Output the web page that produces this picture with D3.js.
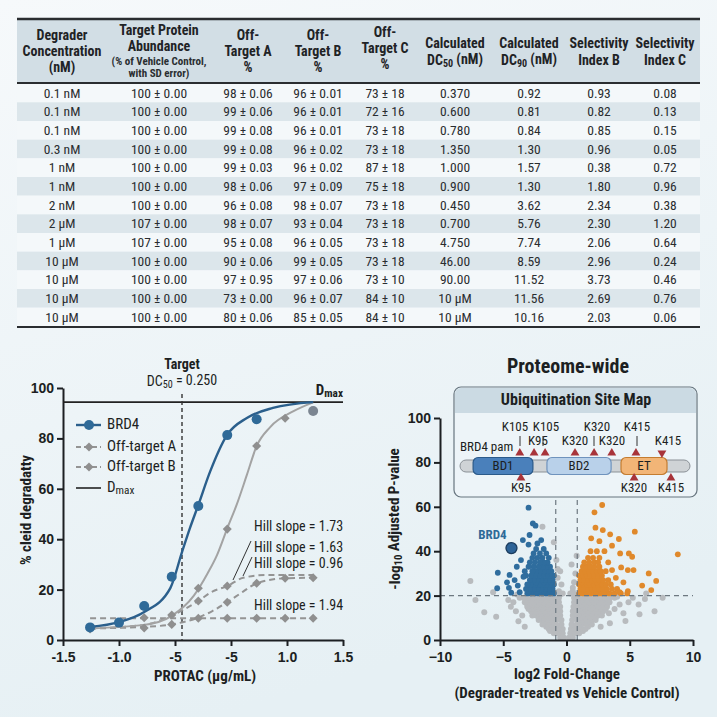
<!DOCTYPE html>
<html><head><meta charset="utf-8">
<script src="https://d3js.org/d3.v7.min.js"></script>
<style>
body { margin:0; background:#eef4f7; }
svg { display:block; font-family:"Liberation Sans Narrow","Arial Narrow","Roboto Condensed","Liberation Sans",sans-serif; }
</style>
</head><body>
<svg id="fig" width="717" height="717"></svg>
<script>
// ---------- table data ----------
const concLabels = ["0.1 nM","0.1 nM","0.1 nM","0.3 nM","1 nM","1 nM","2 nM","2 µM","1 µM","10 µM","10 µM","10 µM","10 µM"];
const abundance  = ["100 ± 0.00","100 ± 0.00","100 ± 0.00","100 ± 0.00","100 ± 0.00","100 ± 0.00","100 ± 0.00","107 ± 0.00","107 ± 0.00","100 ± 0.00","100 ± 0.00","100 ± 0.00","100 ± 0.00"];
const offA = ["98 ± 0.06","99 ± 0.06","99 ± 0.08","99 ± 0.08","99 ± 0.03","98 ± 0.06","96 ± 0.08","98 ± 0.07","95 ± 0.08","90 ± 0.06","97 ± 0.95","73 ± 0.00","80 ± 0.06"];
const offB = ["96 ± 0.01","96 ± 0.01","96 ± 0.01","96 ± 0.02","96 ± 0.02","97 ± 0.09","98 ± 0.07","93 ± 0.04","96 ± 0.05","99 ± 0.05","97 ± 0.06","96 ± 0.07","85 ± 0.05"];
const offC = ["73 ± 18","72 ± 16","73 ± 18","73 ± 18","87 ± 18","75 ± 18","73 ± 18","73 ± 18","73 ± 18","73 ± 18","73 ± 10","84 ± 10","84 ± 10"];
const dc50 = ["0.370","0.600","0.780","1.350","1.000","0.900","0.450","0.700","4.750","46.00","90.00","10 µM","10 µM"];
const dc90 = ["0.92","0.81","0.84","1.30","1.57","1.30","3.62","5.76","7.74","8.59","11.52","11.56","10.16"];
const selB = ["0.93","0.82","0.85","0.96","0.38","1.80","2.34","2.30","2.06","2.96","3.73","2.69","2.03"];
const selC = ["0.08","0.13","0.15","0.05","0.72","0.96","0.38","1.20","0.64","0.24","0.46","0.76","0.06"];

// ---------- dose-response data ----------
const xTickVals   = [-1.5,-0.9,-0.3,0.3,0.9,1.5];
const xTickLabels = ["-1.5","-1.0","-5","-5","1.0","1.5"];
const brd4Pts  = [[-1.21,5.0],[-0.9,6.9],[-0.63,13.5],[-0.335,25.1],[-0.05,53.2],[0.26,81.3],[0.575,87.6]];
const brd4Fit  = [[-1.21,5.2],[-0.9,7.1],[-0.63,11.1],[-0.35,20.6],[-0.225,34.9],[-0.14,44.4],[-0.05,53.6],[0.075,66.7],[0.257,81.3],[0.47,88.1],[0.75,92.1],[1.18,94.4]];
const solidFit = [[-1.21,4.6],[-0.63,6.0],[-0.335,9.6],[-0.1,17.5],[0.05,26.5],[0.15,33.7],[0.26,44.3],[0.36,53.6],[0.47,65.5],[0.575,77],[0.72,84.5],[0.97,90.8],[1.18,94.3]];
const solidPts = [[-1.21,4.4],[-0.05,20.5],[0.26,44],[0.575,77],[0.88,88]];
const solidEnd = [1.18,90.9];
const offAFit  = [[-1.21,4.6],[-0.63,6.0],[-0.335,9.7],[-0.05,15.5],[0.1,19.2],[0.26,21.4],[0.43,24.7],[0.68,25.8],[1.18,25.8]];
const offAPts  = [[-0.335,9.9],[-0.05,15.5],[0.26,21.4]];
const offBFit  = [[-1.21,4.6],[-0.63,5.2],[-0.335,6.2],[-0.05,8.9],[0.1,11.5],[0.26,15.0],[0.43,19.2],[0.575,22.5],[0.88,24.5],[1.18,24.7]];
const offBPts  = [[-0.63,4.8],[-0.335,6.2],[0.26,15.0],[0.575,22.5],[0.88,24.5],[1.18,24.7]];
const flatFit  = [[-1.21,8.6],[1.18,8.6]];
const flatPts  = [[-0.63,8.8],[-0.05,8.6],[0.26,8.6],[0.575,8.6],[0.88,8.6],[1.18,8.6]];
const dmax = 94.4, targetDC50 = -0.225;
const hillLabels = ["Hill slope = 1.73","Hill slope = 1.63","Hill slope = 0.96","Hill slope = 1.94"];

// ---------- volcano data (rows of log2FC at a given -log10 p) ----------
const grayRows = [
  [1,[-0.2,-0.5,0.2,0.5]],[2,[-0.4,0.4]],[3,[-0.3,-0.7,-1.0,0.3,0.7,1.0]],[4,[-0.6,-1.3,0.6,1.3]],
  [5,[-0.3,-0.7,-1.1,-1.4,0.35,0.75,1.1,1.5]],[6,[-0.6,-0.9,-1.6,0.6,1.0,1.7]],
  [7,[-0.4,-0.8,-1.2,-1.6,-1.9,0.4,0.8,1.2,1.6,2.0]],[8,[-1.0,-1.4,-1.8,1.1,1.5,1.9]],
  [9,[-0.4,-0.8,-1.2,-1.5,-1.9,-2.2,0.45,0.85,1.25,1.6,2.0,2.3]],[10,[-0.6,-1.0,-1.4,-1.8,-2.2,0.7,1.1,1.5,1.9,2.3]],
  [11,[-0.5,-0.9,-1.3,-1.7,-2.0,-2.4,-2.7,0.5,0.9,1.3,1.7,2.1,2.5,2.8]],[12,[-0.7,-1.1,-1.5,-1.9,-2.3,-2.6,0.7,1.1,1.6,2.0,2.4,2.7]],
  [13,[-0.5,-0.9,-1.3,-1.7,-2.1,-2.5,-2.8,0.5,0.9,1.3,1.7,2.1,2.5,2.9]],[14,[-0.7,-1.1,-1.5,-1.9,-2.3,-2.7,-3.0,0.7,1.1,1.5,1.9,2.3,2.7,3.1]],
  [15,[-0.5,-0.9,-1.3,-1.6,-2.0,-2.4,-2.8,-3.1,0.55,0.95,1.35,1.7,2.1,2.5,2.9,3.2]],[16,[-0.7,-1.1,-1.5,-1.9,-2.3,-2.7,-3.1,0.8,1.2,1.6,2.0,2.4,2.8,3.2]],
  [17,[-0.6,-1.0,-1.4,-1.8,-2.2,-2.6,-3.0,-3.3,0.6,1.0,1.4,1.8,2.2,2.6,3.0,3.4]],[18,[-0.8,-1.2,-1.6,-2.0,-2.4,-2.8,-3.2,0.8,1.2,1.6,2.0,2.4,2.8,3.3]],
  [19,[-0.6,-1.0,-1.4,-1.8,-2.2,-2.6,-3.0,-3.4,-3.7,0.6,1.0,1.4,1.8,2.2,2.6,3.0,3.4,3.8]]
];
const grayExtra = [[-4.2,17],[-4.6,18],[-4.0,13],[-3.5,11],[-5.56,10.5],[-6.5,12.5],[-7.2,18],[-7.6,26.6],[-5.8,21.5],[-3.8,8.5],[-3.3,6],[-4.4,15],[-3.9,20.5],
  [5.24,19],[5.7,16],[6.2,18.5],[7.6,19],[6.96,13],[5.77,11.6],[4.66,8.6],[3.8,14],[3.35,12],[3.43,7.5],[2.7,6],[4.2,16],[4.5,12],[4.0,19.5],[6.3,21],[4.9,17],
  [-0.6,22],[-0.4,25],[-0.7,28],[-0.5,31],[-0.8,36],[-0.7,32],[-1.0,44],[-1.9,51],[0.5,22],[0.6,26],[0.7,30],[0.4,34],[0.5,23.5],[0.8,38],[-0.3,21],[0.3,21],[-0.5,20.5],[0.6,20.5]];
const blueRows = [
  [21,[-1.0,-1.3,-1.6,-1.9,-2.2,-2.5,-2.8,-3.1]],[22,[-1.15,-1.75,-2.35,-2.95]],[23,[-1.1,-1.4,-1.7,-2.0,-2.3,-2.6,-2.9,-3.2]],
  [25,[-1.0,-1.3,-1.6,-1.9,-2.2,-2.5,-2.8,-3.1]],[26,[-1.2,-1.8,-2.4]],[27,[-1.1,-1.4,-1.7,-2.0,-2.3,-2.6,-2.9]],
  [29,[-1.0,-1.3,-1.6,-1.9,-2.2,-2.5,-2.8,-3.2]],[31,[-1.2,-1.5,-1.8,-2.1,-2.4,-2.7,-3.3]],
  [33,[-1.3,-1.6,-1.9,-2.2,-2.6,-3.0]],[35,[-1.5,-1.8,-2.1,-2.5,-2.9]],[37,[-1.4,-1.9,-2.3,-2.7]],
  [39,[-1.6,-2.1,-2.6]],[41,[-1.8,-2.4]]
];
const blueExtra = [[-3.0,59.6],[-2.66,52.5],[-2.45,51.5],[-2.92,47.3],[-3.45,45],[-3.0,43],[-2.3,43.5],[-5.43,30.3],[-4.5,29.3],[-4.7,26],[-5.48,23.3],[-4.55,23.5],[-4.37,21.3],[-3.93,33],[-3.85,24.5],[-3.4,28.5],[-3.6,36],[-2.0,45],[-3.7,21.5],[-4.1,27]];
const orangeRows = [
  [21,[1.0,1.3,1.6,1.9,2.2,2.5,2.8,3.1,3.4,3.8,4.3,4.8]],[22,[1.15,1.75,2.35,2.95]],[23,[1.1,1.4,1.7,2.0,2.3,2.6,2.9,3.2,3.6,4.0]],
  [25,[1.0,1.3,1.6,1.9,2.2,2.5,2.8,3.1,3.5]],[26,[1.2,1.8,2.4]],[27,[1.1,1.4,1.7,2.0,2.3,2.6,2.9,3.3]],
  [29,[1.0,1.3,1.6,1.9,2.2,2.5,2.8]],[31,[1.2,1.5,1.8,2.1,2.4,2.7,3.1]],
  [33,[1.3,1.6,1.9,2.2,2.6]],[35,[1.4,1.8,2.2,2.5]],[37,[1.7,2.1,2.6]],[40,[1.9,2.4]]
];
const orangeExtra = [[2.82,60.8],[2.21,57.5],[2.29,50.6],[2.87,49.5],[3.45,47.6],[5.4,48.8],[1.95,45.8],[2.6,44.5],[4.14,45.5],[3.6,42.5],[3.0,40],[4.24,39],[4.93,39],[5.19,37.5],[8.8,38.6],[4.32,32.7],[4.85,31.5],[5.3,31.5],[3.6,31.5],[6.5,30],[7.09,26.6],[5.98,24.5],[6.7,22.5],[4.85,22],[4.2,21.5],[3.9,28],[4.5,26],[3.3,35]];
const brd4Hit = [-4.35,41.4];
const fcCut = 0.85, pCut = 20;

// ---------- site map (positions along the bar, 0-100) ----------
const domains = [{name:"BD1",s:5.7,e:31.7,fill:"#4a80bb",stroke:"#2b5a8a"},{name:"BD2",s:37.8,e:65.7,fill:"#b9d1ea",stroke:"#6f93bd"},{name:"ET",s:70,e:90,fill:"#f2b577",stroke:"#c47c30"}];
const sitesUp = [26,32.2,37,50,58.3,66,76.5];
const sitesDown = [87.8];
const sitesBelow = [26.5,75.7,91.7];

const svg = d3.select("#fig");
const defs = svg.append("defs");
const bg = defs.append("linearGradient").attr("id","bg").attr("x1",0).attr("y1",0).attr("x2",0.3).attr("y2",1);
bg.append("stop").attr("offset",0).attr("stop-color","#f6f9fb");
bg.append("stop").attr("offset",1).attr("stop-color","#e6f0f4");
svg.append("rect").attr("width",717).attr("height",717).attr("fill","url(#bg)");

function subText(sel, parts) {
  parts.forEach(p => {
    if (typeof p === "string") sel.append("tspan").text(p);
    else sel.append("tspan").attr("font-size", p.size || "0.72em").attr("dy", p.dy).text(p.t);
  });
}

// ================= TABLE =================
const colX = [62,159,248,318,385,455,529,599,665];
const tL = 17, tR = 700, rowH = 18.67, row0 = 93;
const tbl = svg.append("g");
tbl.append("rect").attr("x",tL).attr("y",19).attr("width",tR-tL).attr("height",64).attr("fill","#d2dee5");
concLabels.forEach((d,i) => {
  tbl.append("rect").attr("x",tL).attr("y",row0 - rowH/2 + i*rowH).attr("width",tR-tL).attr("height",rowH)
     .attr("fill", i % 2 ? "#dce6eb" : "#f4f8fa");
});
tbl.append("line").attr("x1",tL).attr("x2",tR).attr("y1",19).attr("y2",19).attr("stroke","#2a2d30").attr("stroke-width",2.5);
tbl.append("line").attr("x1",tL).attr("x2",tR).attr("y1",83).attr("y2",83).attr("stroke","#2a2d30").attr("stroke-width",2);
tbl.append("line").attr("x1",tL).attr("x2",tR).attr("y1",327).attr("y2",327).attr("stroke","#2a2d30").attr("stroke-width",2);

const headers = [
  [["Degrader",36],["Concentration",52],["(nM)",68]],
  [["Target Protein",31],["Abundance",47]],
  [["Off-",36],["Target A",52],["%",68]],
  [["Off-",36],["Target B",52],["%",68]],
  [["Off-",33],["Target C",49],["%",65]],
  [["Calculated",44],[["DC",{t:"50",dy:"0.3em"},{t:" (nM)",dy:"-0.3em",size:"1em"}],61]],
  [["Calculated",44],[["DC",{t:"90",dy:"0.3em"},{t:" (nM)",dy:"-0.3em",size:"1em"}],61]],
  [["Selectivity",44],["Index B",61]],
  [["Selectivity",44],["Index C",61]]
];
headers.forEach((lines,c) => {
  lines.forEach(([t,y]) => {
    const tx = tbl.append("text").attr("x",colX[c]).attr("y",y).attr("text-anchor","middle")
      .attr("dominant-baseline","middle").attr("font-size",14).attr("font-weight","bold").attr("fill","#1f2326");
    if (Array.isArray(t)) subText(tx, t); else tx.text(t);
  });
});
[["(% of Vehicle Control,",62],["with SD error)",74]].forEach(([t,y]) => {
  tbl.append("text").attr("x",colX[1]).attr("y",y).attr("text-anchor","middle").attr("dominant-baseline","middle")
     .attr("font-size",11).attr("font-weight","bold").attr("fill","#2a2e31").text(t);
});
const cols = [concLabels,abundance,offA,offB,offC,dc50,dc90,selB,selC];
cols.forEach((col,c) => {
  tbl.selectAll(null).data(col).join("text")
    .attr("x",colX[c]).attr("y",(d,i)=>row0 + i*rowH + 1)
    .attr("text-anchor","middle").attr("dominant-baseline","middle")
    .attr("font-size",13.5).attr("fill","#2a2d30").text(d=>d);
});

// ================= DOSE-RESPONSE =================
const xL = d3.scaleLinear().domain([-1.5,1.5]).range([63,343]);
const yL = d3.scaleLinear().domain([0,100]).range([640,388]);
const gL = svg.append("g");
gL.append("g").attr("transform","translate(0,640)")
  .call(d3.axisBottom(xL).tickValues(xTickVals).tickFormat((d,i)=>xTickLabels[i]).tickSize(6).tickSizeOuter(0))
  .call(g => { g.select(".domain").attr("stroke","#1c1f22").attr("stroke-width",2);
               g.selectAll("line").attr("stroke","#1c1f22").attr("stroke-width",2);
               g.selectAll("text").attr("font-size",14).attr("font-weight","bold").attr("fill","#1c1f22").attr("dy","0.9em").attr("font-family","inherit"); });
gL.append("g").attr("transform","translate(63,0)")
  .call(d3.axisLeft(yL).tickValues([0,20,40,60,80,100]).tickSize(6).tickSizeOuter(0))
  .call(g => { g.select(".domain").attr("stroke","#1c1f22").attr("stroke-width",2);
               g.selectAll("line").attr("stroke","#1c1f22").attr("stroke-width",2);
               g.selectAll("text").attr("font-size",14).attr("font-weight","bold").attr("fill","#1c1f22").attr("font-family","inherit"); });
gL.append("text").attr("transform","translate(27,510) rotate(-90)").attr("text-anchor","middle").attr("dominant-baseline","middle")
  .attr("font-size",15).attr("font-weight","bold").attr("fill","#1c1f22").text("% cleid degradatty");
gL.append("text").attr("x",205).attr("y",677).attr("text-anchor","middle").attr("dominant-baseline","middle")
  .attr("font-size",15).attr("font-weight","bold").attr("fill","#1c1f22").text("PROTAC (µg/mL)");

// Dmax + target line
gL.append("line").attr("x1",xL(-1.5)).attr("x2",xL(1.5)).attr("y1",yL(dmax)).attr("y2",yL(dmax)).attr("stroke","#222").attr("stroke-width",1.6);
gL.append("line").attr("x1",xL(targetDC50)).attr("x2",xL(targetDC50)).attr("y1",394).attr("y2",640)
  .attr("stroke","#333").attr("stroke-width",1.4).attr("stroke-dasharray","4,3");
gL.append("text").attr("x",xL(targetDC50)).attr("y",365).attr("text-anchor","middle").attr("dominant-baseline","middle")
  .attr("font-size",14).attr("font-weight","bold").attr("fill","#1c1f22").text("Target");
subText(gL.append("text").attr("x",xL(targetDC50)).attr("y",382).attr("text-anchor","middle").attr("dominant-baseline","middle")
  .attr("font-size",14).attr("fill","#1c1f22"), ["DC",{t:"50",dy:"0.3em"},{t:" = 0.250",dy:"-0.3em",size:"1em"}]);
subText(gL.append("text").attr("x",343).attr("y",391).attr("text-anchor","end").attr("dominant-baseline","middle")
  .attr("font-size",15).attr("font-weight","bold").attr("fill","#1c1f22"), ["D",{t:"max",dy:"0.3em",size:"0.75em"}]);

const line = d3.line().x(d=>xL(d[0])).y(d=>yL(d[1])).curve(d3.curveMonotoneX);
const dash = "6,4", grayC = "#949494";
[offBFit,flatFit,offAFit].forEach(f => {
  gL.append("path").attr("d",line(f)).attr("fill","none").attr("stroke",grayC).attr("stroke-width",2).attr("stroke-dasharray",dash);
});
gL.append("path").attr("d",line(solidFit)).attr("fill","none").attr("stroke","#a3a3a3").attr("stroke-width",2);
gL.append("path").attr("d",line(brd4Fit)).attr("fill","none").attr("stroke","#2b5f8c").attr("stroke-width",2.4);

const diamond = d3.symbol().type(d3.symbolDiamond2).size(52);
gL.selectAll("path.dm").data([...flatPts,...offBPts,...offAPts,...solidPts]).join("path").attr("class","dm")
  .attr("transform",d=>`translate(${xL(d[0])},${yL(d[1])})`).attr("d",diamond).attr("fill","#8f8f8f");
gL.append("circle").attr("cx",xL(solidEnd[0])).attr("cy",yL(solidEnd[1])).attr("r",5).attr("fill","#7b8591");
gL.selectAll("circle.b").data(brd4Pts).join("circle").attr("class","b")
  .attr("cx",d=>xL(d[0])).attr("cy",d=>yL(d[1])).attr("r",5).attr("fill","#2f6a98");

// hill slope labels + leaders
[527,548,564,606].forEach((y,i) => {
  gL.append("text").attr("x",254).attr("y",y).attr("dominant-baseline","middle").attr("font-size",14).attr("fill","#1c1f22").text(hillLabels[i]);
});
gL.append("line").attr("x1",251).attr("y1",541).attr("x2",233).attr("y2",580).attr("stroke","#333").attr("stroke-width",1);
gL.append("line").attr("x1",252).attr("y1",557).attr("x2",243).attr("y2",576).attr("stroke","#333").attr("stroke-width",1);

// legend
const leg = [["BRD4","brd4",425],["Off-target A","off",447],["Off-target B","off",467],["Dmax","dmax",488]];
leg.forEach(([name,type,y]) => {
  const l = gL.append("line").attr("x1",76).attr("x2",101).attr("y1",y).attr("y2",y);
  if (type === "brd4") { l.attr("stroke","#2b5f8c").attr("stroke-width",2.4);
    gL.append("circle").attr("cx",89).attr("cy",y).attr("r",5).attr("fill","#2f6a98"); }
  else if (type === "off") { l.attr("stroke",grayC).attr("stroke-width",2).attr("stroke-dasharray","5,3");
    gL.append("path").attr("transform",`translate(89,${y})`).attr("d",diamond).attr("fill","#8f8f8f"); }
  else l.attr("stroke","#222").attr("stroke-width",1.6);
  const t = gL.append("text").attr("x",107).attr("y",y).attr("dominant-baseline","middle").attr("font-size",15).attr("fill","#1c1f22");
  if (type === "dmax") subText(t, ["D",{t:"max",dy:"0.3em",size:"0.75em"}]); else t.text(name);
});

// ================= VOLCANO =================
const xV = d3.scaleLinear().domain([-10,10]).range([440,693]);
const yV = d3.scaleLinear().domain([0,100]).range([640,418]);
const gV = svg.append("g");
const flat = rows => rows.flatMap(([y,xs]) => xs.map(x => [x,y]));
const grayAll = flat(grayRows).concat(grayExtra);
const blueAll = flat(blueRows).concat(blueExtra);
const orangeAll = flat(orangeRows).concat(orangeExtra);

gV.selectAll("circle.g").data(grayAll).join("circle").attr("class","g")
  .attr("cx",d=>xV(d[0])).attr("cy",d=>yV(d[1])).attr("r",3).attr("fill","#b8bbbe");
gV.selectAll("circle.bl").data(blueAll).join("circle").attr("class","bl")
  .attr("cx",d=>xV(d[0])).attr("cy",d=>yV(d[1])).attr("r",2.9).attr("fill","#2f6d9e");
gV.selectAll("circle.or").data(orangeAll).join("circle").attr("class","or")
  .attr("cx",d=>xV(d[0])).attr("cy",d=>yV(d[1])).attr("r",2.9).attr("fill","#e0892b");

gV.append("line").attr("x1",xV(-10)).attr("x2",xV(10)).attr("y1",yV(pCut)).attr("y2",yV(pCut))
  .attr("stroke","#6d7880").attr("stroke-width",1.2).attr("stroke-dasharray","5,4");
[-fcCut,fcCut].forEach(v => gV.append("line").attr("x1",xV(v)).attr("x2",xV(v)).attr("y1",yV(0)).attr("y2",yV(64))
  .attr("stroke","#6d7880").attr("stroke-width",1.2).attr("stroke-dasharray","5,4"));

gV.append("circle").attr("cx",xV(brd4Hit[0])).attr("cy",yV(brd4Hit[1])).attr("r",5.5).attr("fill","#2d6397").attr("stroke","#1b3c5e").attr("stroke-width",1.3);
gV.append("text").attr("x",xV(brd4Hit[0])-19).attr("y",yV(brd4Hit[1])-13).attr("text-anchor","middle").attr("dominant-baseline","middle")
  .attr("font-size",13).attr("font-weight","bold").attr("fill","#2f6a98").text("BRD4");

gV.append("g").attr("transform","translate(0,640)")
  .call(d3.axisBottom(xV).tickValues([-10,-5,0,5,10]).tickSize(6).tickSizeOuter(0))
  .call(g => { g.select(".domain").attr("stroke","#1c1f22").attr("stroke-width",2);
               g.selectAll("line").attr("stroke","#1c1f22").attr("stroke-width",2);
               g.selectAll("text").attr("font-size",14).attr("font-weight","bold").attr("fill","#1c1f22").attr("dy","0.9em").attr("font-family","inherit"); });
gV.append("g").attr("transform","translate(440,0)")
  .call(d3.axisLeft(yV).tickValues([0,20,40,60,80,100]).tickSize(6).tickSizeOuter(0))
  .call(g => { g.select(".domain").attr("stroke","#1c1f22").attr("stroke-width",2);
               g.selectAll("line").attr("stroke","#1c1f22").attr("stroke-width",2);
               g.selectAll("text").attr("font-size",14).attr("font-weight","bold").attr("fill","#1c1f22").attr("font-family","inherit"); });
subText(gV.append("text").attr("transform","translate(396,519) rotate(-90)").attr("text-anchor","middle").attr("dominant-baseline","middle")
  .attr("font-size",15).attr("font-weight","bold").attr("fill","#1c1f22"), ["-log",{t:"10",dy:"0.3em"},{t:" Adjusted P-value",dy:"-0.3em",size:"1em"}]);
gV.append("text").attr("x",567).attr("y",675).attr("text-anchor","middle").attr("dominant-baseline","middle")
  .attr("font-size",15).attr("font-weight","bold").attr("fill","#1c1f22").text("log2 Fold-Change");
gV.append("text").attr("x",567).attr("y",694).attr("text-anchor","middle").attr("dominant-baseline","middle")
  .attr("font-size",15).attr("font-weight","bold").attr("fill","#1c1f22").text("(Degrader-treated vs Vehicle Control)");
gV.append("text").attr("x",568).attr("y",368).attr("text-anchor","middle").attr("dominant-baseline","middle")
  .attr("font-size",20).attr("font-weight","bold").attr("fill","#1c1f22").text("Proteome-wide");

// ---- site map inset ----
const ins = svg.append("g");
ins.append("rect").attr("x",454).attr("y",387).attr("width",243).attr("height",110).attr("rx",7).attr("fill","#edf4f8").attr("stroke","#67757f").attr("stroke-width",1.2);
ins.append("path").attr("d","M455,413 V394 a6,6 0 0 1 6,-6 H690 a6,6 0 0 1 6,6 V413 Z").attr("fill","#cbdae3");
ins.append("text").attr("x",576).attr("y",401).attr("text-anchor","middle").attr("dominant-baseline","middle")
  .attr("font-size",16).attr("font-weight","bold").attr("fill","#1c1f22").text("Ubiquitination Site Map");
const xs = d3.scaleLinear().domain([0,100]).range([460,690]);
const barY = 466;
ins.append("rect").attr("x",xs(0)).attr("y",barY-6).attr("width",xs(100)-xs(0)).attr("height",12).attr("rx",6)
  .attr("fill","#cfd3d6").attr("stroke","#8b9197").attr("stroke-width",1);
domains.forEach(d => {
  ins.append("rect").attr("x",xs(d.s)).attr("y",barY-8.5).attr("width",xs(d.e)-xs(d.s)).attr("height",17).attr("rx",5)
    .attr("fill",d.fill).attr("stroke",d.stroke).attr("stroke-width",1.2);
  ins.append("text").attr("x",(xs(d.s)+xs(d.e))/2).attr("y",barY+1).attr("text-anchor","middle").attr("dominant-baseline","middle")
    .attr("font-size",13).attr("fill","#1c1f22").text(d.name);
});
const tri = d3.symbol().type(d3.symbolTriangle).size(34);
sitesUp.forEach(p => ins.append("path").attr("transform",`translate(${xs(p)},453)`).attr("d",tri).attr("fill","#a8343a"));
sitesDown.forEach(p => ins.append("path").attr("transform",`translate(${xs(p)},453) rotate(180)`).attr("d",tri).attr("fill","#a8343a"));
sitesBelow.forEach(p => ins.append("path").attr("transform",`translate(${xs(p)},478)`).attr("d",tri).attr("fill","#a8343a"));
const siteLabels = [["K105",515,428],["K105",546,428],["K320",597,428],["K415",637,428],
  ["K95",538,442],["K320",575,442],["K320",612,442],["K415",668,442],
  ["K95",521,489],["K320",634,489],["K415",671,489]];
siteLabels.forEach(([t,x,y]) => ins.append("text").attr("x",x).attr("y",y).attr("text-anchor","middle").attr("dominant-baseline","middle")
  .attr("font-size",13).attr("fill","#1c1f22").text(t));
ins.append("text").attr("x",460).attr("y",448).attr("dominant-baseline","middle").attr("font-size",13).attr("fill","#1c1f22").text("BRD4 pam");
[[520,436,446],[543,436,446],[594,436,446],[637,436,446]].forEach(([x,y1,y2]) =>
  ins.append("line").attr("x1",x).attr("x2",x).attr("y1",y1).attr("y2",y2).attr("stroke","#333").attr("stroke-width",1));
</script>
</body></html>
